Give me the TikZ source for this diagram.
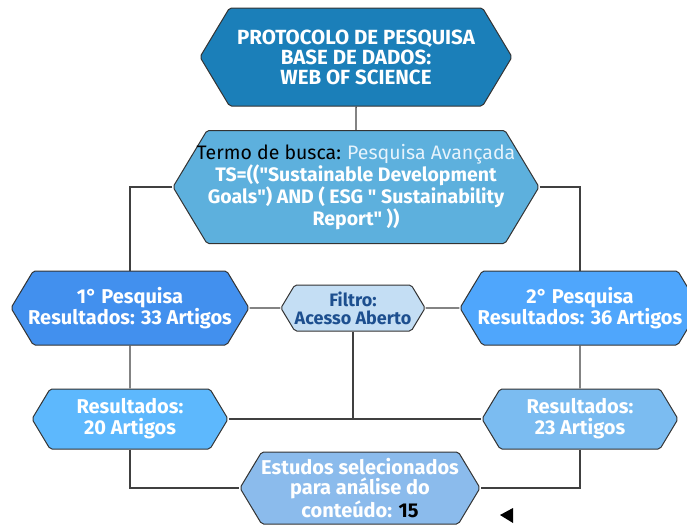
\documentclass[tikz,border=0pt]{standalone}
\usepackage{fontspec}
\setmainfont{Fira Sans}
\usetikzlibrary{shapes.symbols}

\definecolor{protoblue}{HTML}{1B7FB9}
\definecolor{termoblue}{HTML}{5DB0DD}
\definecolor{termolight}{HTML}{E6F3FC}
\definecolor{pesqum}{HTML}{4290EE}
\definecolor{pesqdois}{HTML}{4FA6FC}
\definecolor{filtroblue}{HTML}{C4DEF4}
\definecolor{filtrotext}{HTML}{1D4F8F}
\definecolor{resvinte}{HTML}{5DB8FD}
\definecolor{restres}{HTML}{7BBCF1}
\definecolor{estudos}{HTML}{8BBBEC}

\begin{document}
\begin{tikzpicture}
  [x=1pt,y=-1pt,
   hexa/.style={signal,signal to=west and east,signal pointer angle=118,
     draw=black!80,line width=1pt,rounded corners=2pt,inner sep=0pt,
     text=white,align=center,font=\bfseries\fontsize{20}{21}\selectfont},
   line/.style={draw=black!75,line width=1.4pt}]
  \useasboundingbox (0,0) rectangle (687,525);

  \node[hexa,fill=protoblue,minimum width=312,minimum height=98,
    font=\bfseries\fontsize{20.5}{20}\selectfont] (proto) at (356,57)
    {PROTOCOLO DE PESQUISA\\BASE DE DADOS:\\WEB OF SCIENCE};
  \node[hexa,fill=termoblue,minimum width=366,minimum height=113,inner xsep=-14pt,
    font=\bfseries\fontsize{19.5}{20}\selectfont] (termo) at (356,187)
    {{\mdseries\color{black}Termo de busca:} {\mdseries\color{termolight}Pesquisa Avançada}\\
     TS=((\textquotedbl Sustainable Development\\Goals\textquotedbl) AND ( ESG \textquotedbl{} Sustainability\\Report\textquotedbl{} ))};

  \node[hexa,fill=pesqum,minimum width=238,minimum height=74,inner xsep=-10pt] (pesq1) at (130,308)
    {1° Pesquisa\\Resultados: 33 Artigos};
  \node[hexa,fill=filtroblue,text=filtrotext,minimum width=144,minimum height=46,
    font=\bfseries\fontsize{18}{18}\selectfont] (filtro) at (353,308)
    {Filtro:\\Acesso Aberto};
  \node[hexa,fill=pesqdois,minimum width=240,minimum height=74,inner xsep=-10pt] (pesq2) at (580,308)
    {2° Pesquisa\\Resultados: 36 Artigos};

  \node[hexa,fill=resvinte,minimum width=196,minimum height=60] (res1) at (130,419)
    {Resultados:\\20 Artigos};
  \node[hexa,fill=restres,minimum width=196,minimum height=60] (res2) at (580,419)
    {Resultados:\\23 Artigos};

  \node[hexa,fill=estudos,minimum width=240,minimum height=72,inner xsep=-4pt,
    font=\bfseries\fontsize{20}{20}\selectfont] (estudos) at (360,488)
    {Estudos selecionados\\para análise do\\conteúdo: {\color{black}15}};

  \coordinate (juncao) at (filtro.south |- res1.east);

  \draw[line] (proto) -- (termo);
  \draw[line] (termo.west) -| (pesq1.north);
  \draw[line] (termo.east) -| (pesq2.north);
  \draw[line] (pesq1) -- (filtro);
  \draw[line] (filtro) -- (pesq2);
  \draw[line] (pesq1) -- (res1);
  \draw[line] (pesq2) -- (res2);
  \draw[line] (res1.east) -- (res2.west);
  \draw[line] (filtro.south) -- (juncao);
  \draw[line] (res1.south) |- (estudos.west);
  \draw[line] (res2.south) |- (estudos.east);

  \fill (500,515) -- (513,508) -- (513,523) -- cycle;
\end{tikzpicture}
\end{document}
